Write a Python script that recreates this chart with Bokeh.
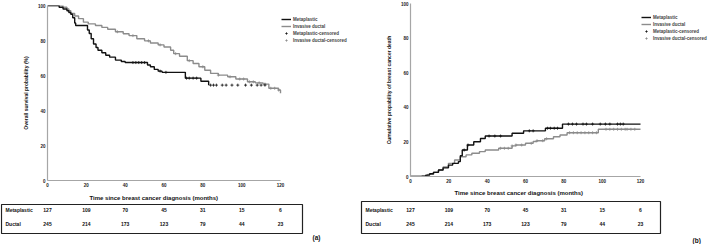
from bokeh.plotting import figure
from bokeh.layouts import row, column
from bokeh.models import Range1d, FixedTicker, Legend, LegendItem, Title, Plot
from bokeh.core.properties import value
from bokeh.embed import file_html
from bokeh.resources import INLINE

FONT = "Liberation Sans"
BLACK = "#111111"
GREY = "#8c8c8c"
AXIS_GREY = "#a6a6a6"

# ---- Kaplan-Meier overall survival (%) : step points (months, value) ----
os_meta_t = [0, 6, 8, 10, 11, 12, 13, 14, 14.5, 20.6, 21.5, 22.5, 23.7, 25, 26, 28, 30, 32, 35, 38, 40,
             51.5, 53, 55, 57, 59, 71, 79, 83]
os_meta_v = [100, 99, 98, 97, 96, 95, 93, 90, 88.6, 86, 84, 81, 78, 76, 74.4, 73, 71.6, 70.5, 68.8, 68, 67.4,
             66, 65, 63.5, 62.5, 61.8, 58.5, 56.7, 54.5]
os_duct_t = [0, 8, 10, 11, 12, 14, 16, 18.5, 21, 24.7, 28, 31, 35, 39, 42, 46, 50, 53, 57, 60, 63.4, 65, 68,
             72, 75, 78, 81, 84, 88, 92.8, 97, 103, 107, 111, 114, 119, 120]
os_duct_v = [100, 99, 98, 97, 95.5, 94, 92.5, 90.5, 89.5, 88.6, 87.5, 86.4, 85, 83.9, 82.8, 81, 79.8, 78.6,
             77.5, 76.3, 74.4, 72.5, 71, 68.5, 66.9, 65, 63, 61.2, 60.2, 59.3, 58, 56.4, 55.8, 55.1, 52.7,
             51.7, 49.8]
os_meta_cens = [44, 45.5, 47, 48.5, 50, 58, 61, 71.6, 73, 75, 76.8, 84, 85.5, 87, 90, 92, 95, 98, 102, 105,
                108, 110, 112]
os_duct_cens = [36, 44, 52, 58, 66, 73, 80, 88, 94, 99, 101, 104, 106, 109, 112, 115, 117, 119]

# ---- Cumulative probability of breast cancer death (%) ----
cd_meta_t = [0, 8, 10, 12, 14.6, 17, 19.8, 22, 25, 26, 27, 29.7, 33, 36.5, 39, 53, 59, 70.4, 79.3, 120]
cd_meta_v = [0, 0.8, 1.6, 2.4, 3.8, 5, 6.6, 7.6, 8.6, 12, 15.3, 18.2, 20.1, 22, 23.4, 25, 26.4, 27.9, 30.3,
             30.3]
cd_duct_t = [0, 6, 9, 12, 14.6, 17, 19.8, 23, 26, 29, 32, 36, 39, 46, 53, 55, 60, 64, 66, 70, 74.6, 78,
             81.7, 98, 120]
cd_duct_v = [0, 0.5, 1.2, 2.5, 3.8, 5.5, 7.6, 9.5, 11.4, 12.5, 13.4, 14.4, 15.3, 16.3, 17.7, 18.2, 19.2,
             20.2, 20.7, 21.8, 23, 24, 25.3, 27.3, 27.3]
cd_meta_cens = [28, 30, 41, 44, 47, 62, 64, 71.5, 73, 75, 76.7, 82.4, 84.5, 86.6, 90, 91.8, 95, 99, 101.7,
                104, 108, 109.5, 111]
cd_duct_cens = [47, 49, 51, 53, 55, 58, 63, 66, 69, 71, 83, 85, 87, 89, 91, 93, 95, 97, 102, 104, 106, 108,
                110, 112, 113, 115, 117]

# ---- Numbers at risk ----
risk_months = [0, 20, 40, 60, 80, 100, 120]
risk_labels = ["Metaplastic", "Ductal"]
risk_meta = [127, 109, 70, 45, 31, 15, 6]
risk_duct = [245, 214, 173, 123, 79, 44, 23]

x_ticks = [0, 20, 40, 60, 80, 100, 120]
y_ticks = [0, 20, 40, 60, 80, 100]
x_title = "Time since breast cancer diagnosis (months)"
legend_labels = ["Metaplastic", "Invasive ductal", "Metaplastic-censored", "Invasive ductal-censored"]

HAS_FRAME_ALIGN = "frame_align" in Plot.properties()


def step_at(ts, vs, t):
    out = vs[0]
    for ti, vi in zip(ts, vs):
        if ti <= t:
            out = vi
    return out


def km_panel(width, height, bl, bt, bb, axis_w, ylabel, series, legend_top, title_offset, title_standoff):
    # the frame runs to the right edge so the key can sit beside the curves;
    # the time axis itself is bounded to 0-120 months
    ppm = axis_w / 120
    p = figure(width=width, height=height, output_backend="svg", toolbar_location=None,
               x_range=Range1d(0, (width - bl) / ppm), y_range=Range1d(0, 100),
               min_border_left=bl, min_border_right=0, min_border_top=bt, min_border_bottom=bb)
    p.outline_line_color = None
    p.grid.visible = False
    for ax in (p.xaxis[0], p.yaxis[0]):
        ax.axis_line_color = AXIS_GREY
        ax.axis_line_width = 1.2
        ax.major_tick_line_color = None
        ax.minor_tick_line_color = None
        ax.major_tick_out = 0
        ax.major_tick_in = 0
        ax.minor_tick_out = 0
        ax.minor_tick_in = 0
        ax.major_label_text_font = FONT
        ax.major_label_text_font_style = "bold"
        ax.major_label_text_font_size = "4.5px"
        ax.major_label_text_color = "#222222"
        ax.major_label_standoff = 2
        ax.axis_label_text_font = FONT
        ax.axis_label_text_font_style = "bold"
        ax.axis_label_text_color = "#111111"
    p.xaxis.ticker = FixedTicker(ticks=x_ticks)
    p.xaxis.bounds = (0, 120)
    p.yaxis.ticker = FixedTicker(ticks=y_ticks)
    p.yaxis.axis_label = ylabel
    p.yaxis.axis_label_text_font_size = "5px"
    p.yaxis.axis_label_standoff = 6
    p.add_layout(Title(text=x_title, align="left", offset=title_offset, standoff=title_standoff,
                       text_font=FONT, text_font_style="bold", text_font_size="6px",
                       text_color="#111111"), "below")

    (mt, mv, mc), (dt, dv, dc) = series
    r_d = p.step(dt, dv, mode="after", line_color=GREY, line_width=1.4)
    r_m = p.step(mt, mv, mode="after", line_color=BLACK, line_width=1.4)
    r_dc = p.scatter(dc, [step_at(dt, dv, t) for t in dc], marker="cross", size=3,
                     line_color=GREY, line_width=0.8)
    r_mc = p.scatter(mc, [step_at(mt, mv, t) for t in mc], marker="cross", size=3,
                     line_color=BLACK, line_width=0.8)

    fh = height - bt - bb
    items = [LegendItem(label=legend_labels[0], renderers=[r_m]),
             LegendItem(label=legend_labels[1], renderers=[r_d]),
             LegendItem(label=legend_labels[2], renderers=[r_mc]),
             LegendItem(label=legend_labels[3], renderers=[r_dc])]
    leg_h = 4 * 6 + 3 * 1
    leg = Legend(items=items, location=(axis_w + 1, fh - legend_top - leg_h),
                 label_text_font=FONT, label_text_font_style="bold", label_text_font_size="4.5px",
                 glyph_width=10, glyph_height=6, label_height=6, spacing=1, padding=0, margin=0,
                 label_standoff=2, border_line_color=None, background_fill_alpha=0)
    p.add_layout(leg, "center")
    return p


def risk_table(width, height, axis_px, px_per_month, box, rows_y, tag, tag_xy):
    # x in months (same scale as the survival axis above), y in pixels from the top
    x_of = lambda px: (px - axis_px) / px_per_month
    t = figure(width=width, height=height, output_backend="svg", toolbar_location=None,
               x_range=Range1d(x_of(0), x_of(width)), y_range=Range1d(height, 0),
               x_axis_location=None, y_axis_location=None,
               min_border_left=0, min_border_right=0, min_border_top=0, min_border_bottom=0)
    if HAS_FRAME_ALIGN:
        t.frame_align = False
    t.grid.visible = False
    t.outline_line_color = None
    bl, br, bt, bb = box
    t.quad(left=[x_of(bl)], right=[x_of(br)], top=[bt], bottom=[bb], fill_color=None,
           line_color="#222222", line_width=1.2)
    style = dict(text_font=value(FONT), text_font_style="bold", text_font_size="5px",
                 text_color="#111111", text_baseline="middle")
    t.text(x=[x_of(bl)] * 2, y=rows_y, text=risk_labels, text_align="left", x_offset=4, **style)
    t.text(x=risk_months, y=[rows_y[0]] * len(risk_months), text=[str(v) for v in risk_meta],
           text_align="center", **style)
    t.text(x=risk_months, y=[rows_y[1]] * len(risk_months), text=[str(v) for v in risk_duct],
           text_align="center", **style)
    t.text(x=[x_of(tag_xy[0])], y=[tag_xy[1]], text=[tag], text_align="left", text_baseline="middle",
           text_font=value(FONT), text_font_style="bold", text_font_size="6.5px", text_color="#111111")
    return t


# panel (a): overall survival
pa = km_panel(354, 203, 47, 5, 22, 233, "Overall survival probability (%)",
              [(os_meta_t, os_meta_v, os_meta_cens), (os_duct_t, os_duct_v, os_duct_cens)], 12, 42, 6)
ta = risk_table(354, 41, 47, 233 / 120, (1, 302, 1, 30), [6, 20], "(a)", (312, 34))

# panel (b): cumulative breast cancer death
pb = km_panel(355, 199, 56, 3, 23, 230, "Cumulative propability of breast cancer death",
              [(cd_meta_t, cd_meta_v, cd_meta_cens), (cd_duct_t, cd_duct_v, cd_duct_cens)], 11, 44, 5)
tb = risk_table(355, 45, 56, 230 / 120, (7, 306, 2, 34), [10, 24], "(b)", (338, 41))

layout = row(column(pa, ta, spacing=0), column(pb, tb, spacing=0), spacing=0)

with open("out.html", "w") as f:
    f.write(file_html(layout, INLINE))
